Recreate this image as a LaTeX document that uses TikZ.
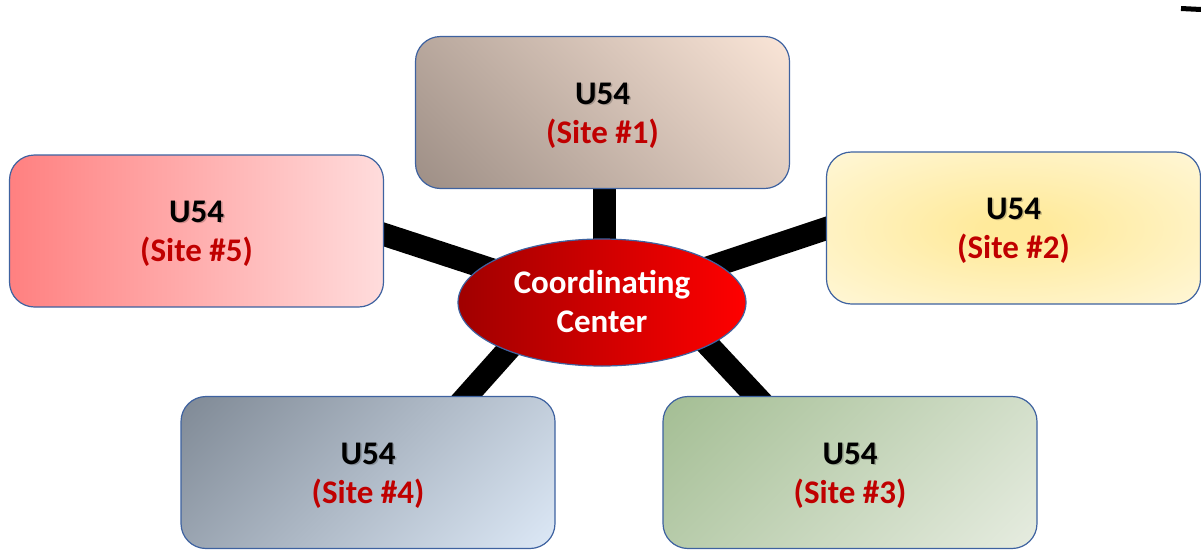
\documentclass[tikz,border=0pt]{standalone}
\usepackage{fontspec}
\setmainfont{Carlito}
\usetikzlibrary{shapes.geometric,backgrounds}
\definecolor{bord}{RGB}{62,98,160}
\definecolor{sitered}{RGB}{192,0,0}
\definecolor{b1dark}{RGB}{158,143,134}
\definecolor{b1light}{RGB}{250,229,215}
\definecolor{b2in}{RGB}{255,234,155}
\definecolor{b2out}{RGB}{255,247,216}
\definecolor{b5left}{RGB}{255,128,128}
\definecolor{b5right}{RGB}{255,220,220}
\definecolor{b4dark}{RGB}{128,138,150}
\definecolor{b4light}{RGB}{220,232,246}
\definecolor{b3dark}{RGB}{164,190,148}
\definecolor{b3light}{RGB}{230,236,224}
\definecolor{ccdark}{RGB}{160,0,0}
\definecolor{cclight}{RGB}{255,0,0}
\pgfdeclareverticalshading{shone}{100bp}{color(0bp)=(b1dark); color(15bp)=(b1dark); color(85bp)=(b1light); color(100bp)=(b1light)}
\pgfdeclareverticalshading{shfour}{100bp}{color(0bp)=(b4light); color(15bp)=(b4light); color(85bp)=(b4dark); color(100bp)=(b4dark)}
\pgfdeclareverticalshading{shthree}{100bp}{color(0bp)=(b3light); color(15bp)=(b3light); color(85bp)=(b3dark); color(100bp)=(b3dark)}
\pgfdeclareradialshading{shtwo}{\pgfpoint{0bp}{0bp}}{color(0bp)=(b2in); color(4bp)=(b2in); color(36bp)=(b2out); color(50bp)=(b2out)}
\begin{document}
\begin{tikzpicture}[x=1pt,y=-1pt,
  box/.style={draw=bord, line width=1.2pt, rounded corners=25pt, minimum width=374pt, minimum height=152pt, inner sep=0pt},
  spoke/.style={line width=23pt, black},
  lbl/.style={font=\fontsize{33}{39}\selectfont\bfseries, inner sep=0pt, anchor=base},
  shd/.style={lbl, text=black, opacity=0.2},
  sitelbl/.style={lbl, text=sitered},
  cclbl/.style={lbl, text=white},
]
\useasboundingbox (0,0) rectangle (1201,549);

% boxes
\node[box, shading=shone, shading angle=-45] (b1) at (602.5,112.5) {};
\node[box, shading=shtwo] (b2) at (1013.5,228) {};
\node[box, left color=b5left, right color=b5right] (b5) at (196.5,231) {};
\node[box, shading=shfour, shading angle=45] (b4) at (368,472.5) {};
\node[box, shading=shthree, shading angle=45] (b3) at (850,472.5) {};

% centre
\node[ellipse, draw=bord, line width=1.2pt, minimum width=288pt, minimum height=127pt, inner sep=0pt, left color=ccdark, right color=cclight] (cc) at (602,302.5) {};

% connectors
\begin{pgfonlayer}{background}
  \coordinate (e1) at (604,300);
  \coordinate (k1) at (604,150);
  \coordinate (e5) at (560,292);
  \coordinate (k5) at (300,207);
  \coordinate (e2) at (602,303);
  \coordinate (k2) at (900,204);
  \coordinate (e4) at (540,314);
  \coordinate (k4) at (440,426);
  \coordinate (e3) at (680,315);
  \coordinate (k3) at (780,422);
  \draw[spoke] (k1) -- (e1);
  \draw[spoke] (k5) -- (e5);
  \draw[spoke] (k2) -- (e2);
  \draw[spoke] (k4) -- (e4);
  \draw[spoke] (k3) -- (e3);
\end{pgfonlayer}

% labels
\node[shd] (u1s) at (604,105.5) {U54};
\node[lbl] (u1) at (602.5,104) {U54};
\node[sitelbl] (s1) at (602.5,143) {(Site \#1)};

\node[shd] (u2s) at (1015,220.5) {U54};
\node[lbl] (u2) at (1013.5,219) {U54};
\node[sitelbl] (s2) at (1013.5,258) {(Site \#2)};

\node[shd] (u5s) at (198,223.5) {U54};
\node[lbl] (u5) at (196.5,222) {U54};
\node[sitelbl] (s5) at (196.5,261) {(Site \#5)};

\node[shd] (u4s) at (369.5,465.5) {U54};
\node[lbl] (u4) at (368,464) {U54};
\node[sitelbl] (s4) at (368,503) {(Site \#4)};

\node[shd] (u3s) at (851.5,465.5) {U54};
\node[lbl] (u3) at (850,464) {U54};
\node[sitelbl] (s3) at (850,503) {(Site \#3)};

\node[cclbl] (c1) at (602,293) {Coordinating};
\node[cclbl] (c2) at (602,332) {Center};

% fragment at top right
\coordinate (m1) at (1181,8.5);
\coordinate (m2) at (1201,9.5);
\draw[line width=5pt] (m1) -- (m2);
\end{tikzpicture}
\end{document}
